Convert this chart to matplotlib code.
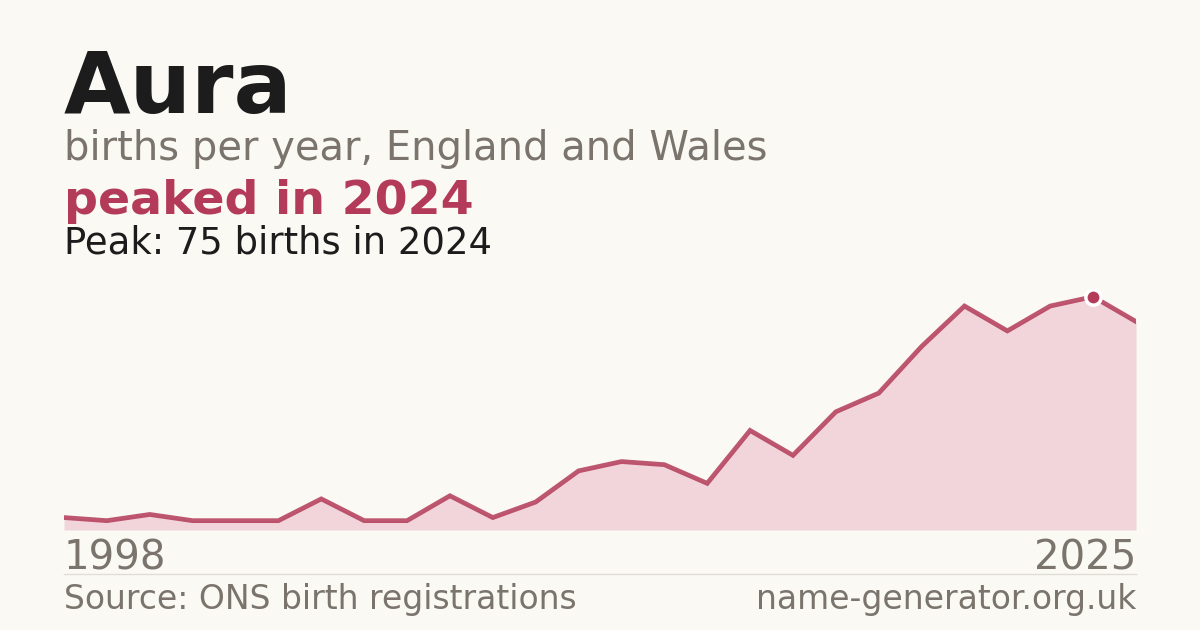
import numpy as np
import matplotlib.pyplot as plt

years = [1998, 1999, 2000, 2001, 2002, 2003, 2004, 2005, 2006, 2007, 2008, 2009, 2010,
         2011, 2012, 2013, 2014, 2015, 2016, 2017, 2018, 2019, 2020, 2021, 2024, 2025]
births = [4, 3, 5, 3, 3, 3, 10, 3, 3, 11, 4, 9, 19,
          22, 21, 15, 32, 24, 38, 44, 59, 72, 64, 72, 75, 67]
name = "Aura"
subtitle = "births per year, England and Wales"
headline = "peaked in 2024"
peak_text = "Peak: 75 births in 2024"
source = "Source: ONS birth registrations"
site = "name-generator.org.uk"

BG = "#faf9f4"
CRIMSON = "#b33a58"
FILL = "#f1d5db"
GREY = "#7a746c"
INK = "#1c1c1c"

W, H = 1200, 630
fig = plt.figure(figsize=(12, 6.3), dpi=100, facecolor=BG)

def fy(px):
    return 1 - px / H

# header texts --------------------------------------------------------------
fig.text(64 / W, fy(113), name, fontsize=62, fontweight="bold", color=INK, va="baseline")
fig.text(64 / W, fy(160), subtitle, fontsize=28.8, color=GREY, va="baseline")
fig.text(64 / W, fy(214), headline, fontsize=34.2, fontweight="bold", color=CRIMSON, va="baseline")
fig.text(64 / W, fy(253), peak_text, fontsize=26.6, color=INK, va="baseline")

# chart area ----------------------------------------------------------------
top_px, bot_px = 280, 530
ax = fig.add_axes([64 / W, fy(bot_px), (1136 - 64) / W, (bot_px - top_px) / H])
ax.set_facecolor(BG)
x = np.arange(len(years))
peak_i = int(np.argmax(births))
ymax = births[peak_i] * (bot_px - top_px) / (bot_px - 296.7)

ax.fill_between(x, births, 0, color=FILL, lw=0)
ax.plot(x, births, color=CRIMSON, lw=3.4, alpha=0.85, solid_joinstyle="miter")
ax.plot(x[peak_i], births[peak_i], "o", ms=11, color=CRIMSON, mec="white", mew=2.5, zorder=5)
ax.axhline(0, color="#e0ddd6", lw=1)
ax.set_xlim(0, len(years) - 1)
ax.set_ylim(0, ymax)
ax.axis("off")

# x labels + footer ----------------------------------------------------------
fig.text(64 / W, fy(569), str(years[0]), fontsize=29, color=GREY, va="baseline")
fig.text(1136 / W, fy(569), str(years[-1]), fontsize=29, color=GREY, va="baseline", ha="right")
fig.add_artist(plt.Line2D([64 / W, 1136 / W], [fy(574), fy(574)], color="#e0ddd6", lw=1))
fig.text(64 / W, fy(609), source, fontsize=23.8, color=GREY, va="baseline")
fig.text(1136 / W, fy(609), site, fontsize=23.8, color=GREY, va="baseline", ha="right")

fig.savefig("out.png", dpi=100, facecolor=BG)
